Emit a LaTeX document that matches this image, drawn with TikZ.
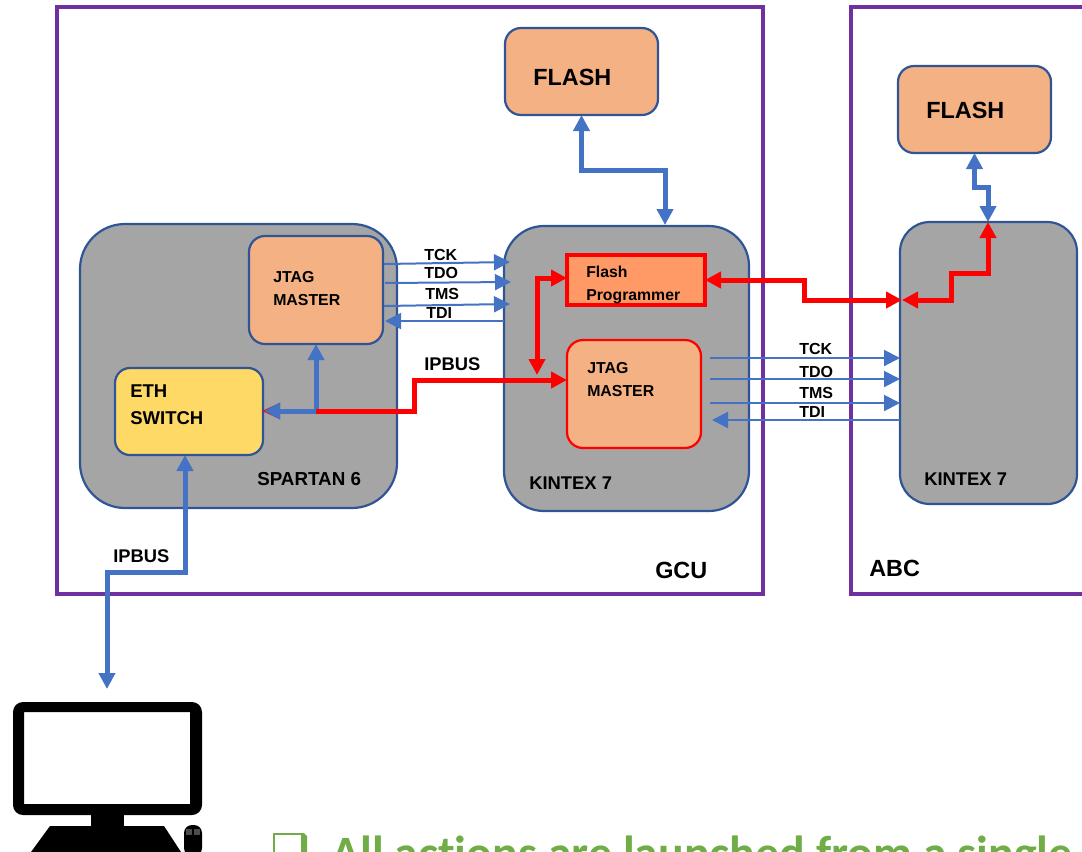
\documentclass[tikz,border=0pt]{standalone}
\usepackage{fontspec}
\setmainfont{Liberation Sans}
\newfontfamily\carlitofont[Ligatures=NoCommon]{Carlito}
\usepackage{xcolor}
\usetikzlibrary{arrows.meta}
\usetikzlibrary{positioning, shapes.geometric}

\definecolor{framepurple}{HTML}{7030A0}
\definecolor{edgeblue}{HTML}{2F5597}
\definecolor{busblue}{HTML}{4472C4}
\definecolor{chipgrey}{HTML}{A5A5A5}
\definecolor{boxorange}{HTML}{F4B183}
\definecolor{progorange}{HTML}{FF9966}
\definecolor{switchyellow}{HTML}{FFD966}
\definecolor{notegreen}{HTML}{70AD47}
\def\px{0.75pt}

\tikzset{
    frame/.style={draw=framepurple, line width=4*\px},
    block/.style={draw=edgeblue, line width=2.2*\px, inner sep=0pt, outer sep=0pt},
    chip/.style={block, fill=chipgrey},
    orangebox/.style={block, fill=boxorange, rounded corners=16*\px},
    label/.style={anchor=base west, inner sep=0pt, font=\bfseries\fontsize{#1}{#1}\selectfont},
    bluebus/.style={draw=busblue, line width=5*\px, -{Triangle[length=16*\px,width=16*\px]}},
    bluedouble/.style={draw=busblue, line width=5*\px, {Triangle[length=16*\px,width=16*\px]}-{Triangle[length=16*\px,width=16*\px]}},
    redbus/.style={draw=red, line width=5*\px, -{Triangle[length=16*\px,width=16*\px]}},
    reddouble/.style={draw=red, line width=5*\px, {Triangle[length=16*\px,width=16*\px]}-{Triangle[length=16*\px,width=16*\px]}},
    signal/.style={draw=busblue, line width=2*\px, -{Triangle[length=16*\px,width=16*\px]}},
}

\begin{document}
\begin{tikzpicture}[x=0.75pt, y=-0.75pt]
    \path[use as bounding box, clip] (0,0) rectangle (1082,851);

    % frames
    \draw[frame] (57,7) rectangle (763,594);
    \draw[frame] (851,7) rectangle (1100,594);

    % chips
    \node[chip, rounded corners=45*\px, minimum width=317*\px, minimum height=284*\px] (spartan) at (238.5,366) {};
    \node[chip, rounded corners=40*\px, minimum width=245*\px, minimum height=285*\px] (kintexgcu) at (626.5,368.5) {};
    \node[chip, rounded corners=30*\px, minimum width=177*\px, minimum height=282*\px] (kintexabc) at (988.5,363) {};

    % boxes
    \node[orangebox, minimum width=153*\px, minimum height=87*\px] (flashgcu) at (581.5,71.5) {};
    \node[orangebox, minimum width=153*\px, minimum height=87*\px] (flashabc) at (974.5,109.5) {};
    \node[orangebox, minimum width=134*\px, minimum height=108*\px] (jtagspartan) at (316,290) {};
    \node[orangebox, draw=red, minimum width=134*\px, minimum height=108*\px] (jtagkintex) at (634,394) {};
    \node[block, fill=switchyellow, rounded corners=15*\px, minimum width=148*\px, minimum height=87*\px] (ethswitch) at (189,411.5) {};
    \node[block, draw=red, line width=4*\px, fill=progorange, minimum width=138*\px, minimum height=50*\px] (programmer) at (636,280) {};

    % free ends of the connectors
    \coordinate (kintexflash) at (665,225);
    \coordinate (flashbend) at (665,170);
    \coordinate (abcbend) at (988,187.5);
    \coordinate (abctop) at (988,222);
    \coordinate (abcleft) at (902,300);
    \coordinate (abcstep) at (951,273);
    \coordinate (progbend) at (804,300);
    \coordinate (progleft) at (567,278);
    \coordinate (jtagtop) at (537,375);
    \coordinate (jtagleft) at (567,380);
    \coordinate (busstep) at (414,411);
    \coordinate (busjoin) at (316,411);
    \coordinate (switchright) at (262,411);
    \coordinate (pcbend) at (107,572);
    \coordinate (pctop) at (107,689);

    % flash links
    \draw[bluedouble] (flashgcu.south) |- (flashbend) -- (kintexflash);
    \draw[bluedouble] (flashabc.south) |- (abcbend) -- (abctop);

    % red links
    \draw[reddouble] (programmer.east) -| (progbend) -- (abcleft);
    \draw[reddouble] (abctop) |- (abcstep) |- (abcleft);
    \draw[reddouble] (progleft) -| (jtagtop);
    \draw[redbus] (busjoin) -- (busstep) |- (jtagleft);

    % ethernet
    \draw[draw=red, line width=1*\px, -{Triangle[open, length=18*\px, width=16*\px]}] (busjoin) -- (switchright);
    \draw[draw=busblue, line width=5*\px, -{Triangle[length=16*\px,width=16*\px]}] (busjoin) -- ([xshift=2*\px]switchright);
    \draw[bluebus] ([yshift=2.5*\px]busjoin) -- (jtagspartan.south -| busjoin);
    \draw[bluedouble] (ethswitch.south -| 185,0) |- (pcbend) -- (pctop);

    % jtag lines spartan to kintex
    \coordinate (tcka) at (384,264);
    \coordinate (tckb) at (510,262);
    \coordinate (tdoa) at (385,283);
    \coordinate (tdob) at (511,282);
    \coordinate (tmsa) at (384,306);
    \coordinate (tmsb) at (510,304);
    \coordinate (tdia) at (504,321);
    \coordinate (tdib) at (385,321);
    \draw[signal] (tcka) -- (tckb);
    \draw[signal] (tdoa) -- (tdob);
    \draw[signal] (tmsa) -- (tmsb);
    \draw[signal] (tdia) -- (tdib);

    % jtag lines kintex to kintex
    \coordinate (tckc) at (710,358);
    \coordinate (tckd) at (900,358);
    \coordinate (tdoc) at (710,379);
    \coordinate (tdod) at (900,379);
    \coordinate (tmsc) at (710,403);
    \coordinate (tmsd) at (900,403);
    \coordinate (tdic) at (900,420);
    \coordinate (tdid) at (712,420);
    \draw[signal] (tckc) -- (tckd);
    \draw[signal] (tdoc) -- (tdod);
    \draw[signal] (tmsc) -- (tmsd);
    \draw[signal] (tdic) -- (tdid);

    % texts
    \node[label=17.55pt] (flashgcutext) at (533,85) {FLASH};
    \node[label=17.55pt] (flashabctext) at (926,118) {FLASH};
    \node[label=11.9pt] (jtagtexta) at (273,282) {JTAG};
    \node[label=11.9pt] (mastertexta) at (273,305) {MASTER};
    \node[label=11.9pt] (jtagtextb) at (587,373) {JTAG};
    \node[label=11.9pt] (mastertextb) at (587,396) {MASTER};
    \node[label=11.85pt] (flashtext) at (586,277) {Flash};
    \node[label=11.85pt] (progtext) at (586,300) {Programmer};
    \node[label=13.9pt] (ethtext) at (130,397) {ETH};
    \node[label=13.9pt] (switchtext) at (130,424) {SWITCH};
    \node[label=14.1pt] (spartantext) at (257,485.5) {SPARTAN 6};
    \node[label=13.8pt] (kintextexta) at (529,489) {KINTEX 7};
    \node[label=13.8pt] (kintextextb) at (924,485.5) {KINTEX 7};
    \node[label=17.55pt] (gcutext) at (655,578) {GCU};
    \node[label=17.55pt] (abctext) at (869,576) {ABC};
    \node[label=13.75pt] (ipbustexta) at (424,370.5) {IPBUS};
    \node[label=13.75pt] (ipbustextb) at (113,562.5) {IPBUS};
    \node[label=12pt] (tcktexta) at (424,260) {TCK};
    \node[label=12pt] (tdotexta) at (424,278) {TDO};
    \node[label=12pt] (tmstexta) at (425,299) {TMS};
    \node[label=12pt] (tditexta) at (426,318) {TDI};
    \node[label=12pt] (tcktextb) at (799,354) {TCK};
    \node[label=12pt] (tdotextb) at (799,377) {TDO};
    \node[label=12pt] (tmstextb) at (799,398) {TMS};
    \node[label=12pt] (tditextb) at (799,417) {TDI};

    % computer
    \fill[even odd rule] [rounded corners=10*\px] (13,702) rectangle (202,815)
        [sharp corners] (24,712) rectangle (190,804);
    \fill (91,814) rectangle (124,827);
    \fill (50,826) -- (164,826) -- (181,852) -- (31,852) -- cycle;
    \fill[rounded corners=8*\px] (184,825) rectangle (202,856);
    \fill[black!70] (186,829) rectangle (192,835);
    \fill[black!70] (194,829) rectangle (200,835);

    % note at the bottom
    \draw[notegreen, line width=2.5*\px] (274,834) rectangle (302,870);
    \fill[notegreen] (301,833) -- (304,833) -- (307,836) -- (307,870) -- (301,870) -- cycle;
    \node[anchor=base west, inner sep=0pt, text=notegreen, font=\carlitofont\bfseries\fontsize{35.9pt}{35.9pt}\selectfont] (notetext) at (331,869) {All actions are launched from a single};
\end{tikzpicture}
\end{document}
